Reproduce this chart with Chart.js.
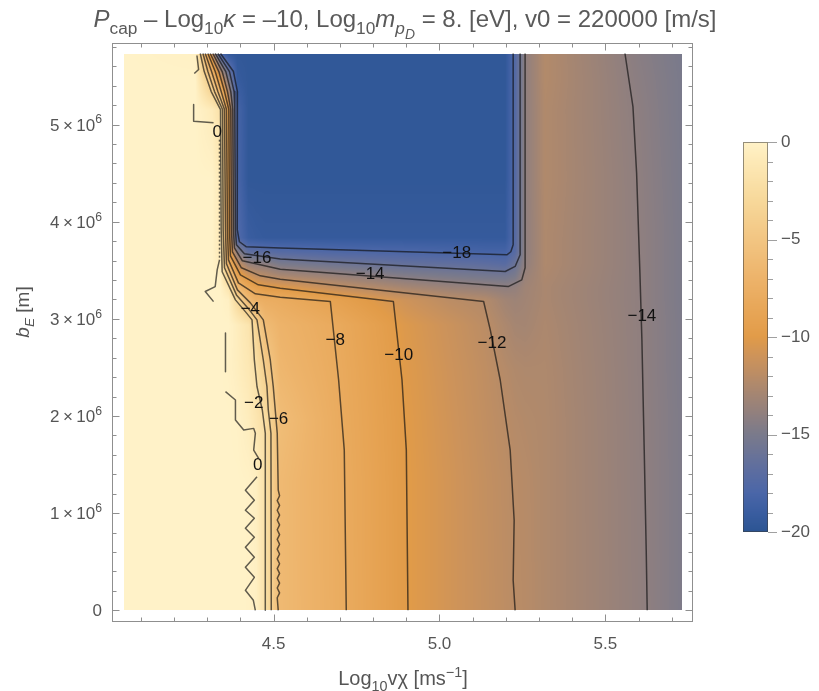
<!DOCTYPE html>
<html>
<head>
<meta charset="utf-8">
<script src="https://cdn.jsdelivr.net/npm/chart.js@4.4.1/dist/chart.umd.min.js"></script>
<style>
html,body{margin:0;padding:0;background:#fff}
canvas{display:block}
</style>
</head>
<body>
<canvas id="c" width="819" height="691"></canvas>
<script>
// ---- density grid: log10 v_chi (columns) x b_E in 10^6 m (rows), values are log10 P_cap ----
const logV = [4.050,4.264,4.315,4.340,4.364,4.391,4.424,4.448,4.475,4.520,4.701,4.897,5.032,5.138,5.198,5.228,5.258,5.318,5.605,5.730];
const bE   = [0,1.340,1.959,2.474,2.938,3.196,3.320,3.443,3.567,3.691,3.835,4.433,5.155,5.464,5.730];
const pcapRows = [
  [0,0,0,0,0,0,-0.1,-0.3,-2.0,-6.3,-7.85,-9.95,-10.8,-11.45,-11.8,-12.0,-12.1,-12.45,-13.9,-14.8],
  [0,0,0,0,0,0,-0.1,-0.4,-2.0,-6.3,-7.9,-9.95,-10.8,-11.5,-11.85,-12.05,-12.15,-12.45,-13.93,-14.8],
  [0,0,0,0,0,-0.1,-0.6,-1.4,-2.4,-5.9,-8.0,-10.0,-10.9,-11.6,-12.0,-12.2,-12.3,-12.45,-13.95,-14.8],
  [0,0,0,0,-0.1,-0.5,-1.1,-2.1,-4.1,-6.6,-8.1,-10.1,-11.0,-11.7,-12.2,-12.4,-12.5,-12.5,-13.97,-14.85],
  [0,0,0,0,0,-0.6,-1.5,-3.6,-6.1,-7.0,-8.25,-10.25,-11.15,-11.9,-12.6,-12.9,-12.95,-12.6,-13.98,-14.85],
  [0,0,0,0,-0.3,-3.1,-6.2,-7.4,-7.7,-7.9,-9.3,-11.0,-11.9,-12.3,-13.1,-13.3,-13.1,-12.7,-14.0,-14.9],
  [0,0,0,-0.1,-1.5,-6.4,-8.3,-9.2,-9.8,-10.0,-11.6,-12.8,-13.4,-13.7,-14.0,-13.8,-13.2,-12.7,-14.0,-14.9],
  [0,0,0,-0.3,-4.3,-8.8,-10.8,-11.7,-12.1,-12.7,-13.6,-14.6,-15.0,-15.3,-15.4,-15.0,-13.5,-12.6,-14.0,-14.9],
  [0,0,0,-0.8,-7.0,-11.3,-13.6,-14.0,-14.1,-15.0,-15.7,-16.4,-16.6,-16.8,-17.1,-16.0,-13.9,-12.5,-14.0,-14.9],
  [0,0,0,-1.0,-8.2,-14.3,-16.7,-16.8,-17.0,-17.3,-17.7,-17.9,-18.1,-18.3,-18.3,-17.2,-14.0,-12.5,-14.0,-14.9],
  [0,0,0,-1.0,-9.0,-17.5,-19.0,-19.2,-19.3,-19.3,-19.3,-19.3,-19.3,-19.3,-19.3,-17.3,-14.0,-12.5,-14.0,-14.9],
  [0,0,0,-1.0,-9.0,-18.0,-19.6,-19.6,-19.6,-19.6,-19.6,-19.6,-19.6,-19.6,-19.6,-17.4,-14.0,-12.4,-14.05,-14.95],
  [0,0,-0.8,-2.0,-9.6,-18.2,-19.6,-19.6,-19.6,-19.6,-19.6,-19.6,-19.6,-19.6,-19.6,-17.4,-14.0,-12.4,-14.15,-15.0],
  [0,0,-5.4,-10.0,-14.6,-19.2,-19.6,-19.6,-19.6,-19.6,-19.6,-19.6,-19.6,-19.6,-19.6,-17.4,-14.0,-12.3,-14.25,-15.0],
  [0,-0.2,-11.6,-18.0,-19.4,-19.6,-19.6,-19.6,-19.6,-19.6,-19.6,-19.6,-19.6,-19.6,-19.6,-17.4,-14.0,-12.3,-14.35,-15.05]
];

// ---- colour scale ----
const cbarValues = [0,-1,-3,-5,-7,-9,-10,-11,-12,-13,-14,-15,-16,-17,-18,-19,-20];
const cbarColors = ['#FFF2C8','#FDE9B6','#F7D89A','#F2C582','#EDB36A','#E6A353','#E19B48','#CD935A','#B98C66',
                    '#A38573','#8F7F7F','#7A7A8B','#6A7397','#5A6CA1','#4A66A8','#3A5DA0','#2B5492'];
const cbarTicks = [0,-5,-10,-15,-20];

// ---- contour lines (log10 v, b_E / 10^6 m) ----
const contourM18 = [[4.340,5.732],[4.379,5.546],[4.391,5.340],[4.390,5.155],[4.391,3.918],[4.397,3.794],[4.418,3.742],[4.520,3.729],[5.203,3.660],[5.215,3.691],[5.222,3.763],[5.222,5.732]];
const contourM16 = [[4.332,5.732],[4.367,5.546],[4.381,5.340],[4.383,5.155],[4.385,3.918],[4.388,3.763],[4.412,3.670],[4.520,3.616],[5.198,3.488],[5.228,3.540],[5.243,3.660],[5.243,5.732]];
const contourM14 = [[4.324,5.732],[4.356,5.546],[4.371,5.340],[4.377,5.155],[4.379,3.918],[4.382,3.732],[4.406,3.598],[4.520,3.512],[5.207,3.333],[5.248,3.402],[5.258,3.526],[5.258,5.732]];
const contourM14b = [[5.559,5.732],[5.583,5.186],[5.594,4.505],[5.604,3.474],[5.610,2.784],[5.617,1.649],[5.623,0.619],[5.626,0]];
const contourM12 = [[4.317,5.732],[4.345,5.546],[4.361,5.340],[4.371,5.155],[4.373,3.918],[4.376,3.691],[4.403,3.526],[4.460,3.443],[4.520,3.409],[5.133,3.179],[5.153,2.887],[5.183,2.371],[5.213,1.649],[5.225,0.928],[5.222,0.309],[5.228,0]];
const contourM10 = [[4.309,5.732],[4.335,5.546],[4.352,5.340],[4.365,5.155],[4.367,3.918],[4.370,3.649],[4.400,3.454],[4.454,3.351],[4.520,3.316],[4.861,3.179],[4.887,2.371],[4.900,1.649],[4.905,0]];
const contourM8 = [[4.302,5.732],[4.324,5.546],[4.342,5.340],[4.358,5.155],[4.361,3.918],[4.364,3.608],[4.394,3.371],[4.445,3.258],[4.520,3.224],[4.671,3.179],[4.696,2.371],[4.713,1.649],[4.719,0]];
const contourM6 = [[4.294,5.732],[4.313,5.546],[4.332,5.340],[4.352,5.155],[4.355,3.918],[4.358,3.567],[4.391,3.299],[4.430,3.165],[4.469,2.990],[4.490,2.577],[4.499,2.302],[4.505,2.062],[4.511,1.822],[4.514,1.237],
  [4.518,1.18],[4.511,1.13],[4.518,1.08],[4.511,1.03],[4.518,0.98],[4.511,0.93],[4.518,0.88],[4.511,0.83],[4.518,0.78],[4.511,0.73],[4.518,0.68],[4.511,0.63],
  [4.518,0.58],[4.511,0.53],[4.518,0.48],[4.511,0.43],[4.518,0.38],[4.511,0.33],[4.518,0.28],[4.511,0.23],[4.518,0.18],[4.511,0.13],[4.514,0]];
const contourM4 = [[4.287,5.732],[4.302,5.546],[4.322,5.340],[4.346,5.155],[4.348,3.918],[4.352,3.526],[4.388,3.247],[4.427,3.093],[4.450,2.990],[4.469,2.577],[4.480,2.302],[4.484,2.062],[4.492,1.822],[4.493,0]];
const contourM2 = [[4.279,5.732],[4.291,5.546],[4.312,5.340],[4.340,5.155],[4.342,3.918],[4.345,3.485],[4.385,3.196],[4.418,3.062],[4.435,2.990],[4.442,2.577],[4.450,2.302],[4.466,2.062],[4.475,1.822],[4.475,0]];
const contour0a = [[4.269,5.711],[4.274,5.567],[4.261,5.526]];
const contour0b = [[4.259,5.206],[4.259,5.034],[4.319,5.018]];
const contour0c = [[4.337,4.845],[4.337,3.608]];
const contour0d = [[4.337,3.608],[4.330,3.505],[4.324,3.333],[4.294,3.282],[4.319,3.178]];
const contour0e = [[4.355,2.856],[4.355,2.457]];
const contour0f = [[4.355,2.251],[4.385,2.165],[4.385,1.959],[4.410,1.856],[4.440,1.873],[4.445,1.822],[4.440,1.649],[4.455,1.564]];
const contour0g = [[4.450,1.374],[4.415,1.237],[4.442,1.134],[4.415,1.031],[4.442,0.948],[4.415,0.845],[4.442,0.753],[4.415,0.649],[4.442,0.546],[4.415,0.443],[4.442,0.340],[4.415,0.206],[4.439,0.103],[4.445,0]];

// ---- contour labels ----
const labelLevels = [0,-16,-14,-18,-4,-8,-10,-12,-14,-2,-6,0];
const labelLogV   = [4.330,4.450,4.791,5.052,4.430,4.686,4.877,5.158,5.610,4.440,4.515,4.452];
const labelBE     = [4.918,3.626,3.464,3.677,3.103,2.784,2.629,2.749,3.024,2.131,1.969,1.495];

// ---- axis ticks ----
const xMajorTicks = [4.5,5.0,5.5];
const yMajorTicks = [0,1,2,3,4,5];

const FONT = "'Liberation Sans', Arial, Helvetica, sans-serif";
Chart.defaults.font.family = FONT;

function hexRgb(h){return [parseInt(h.slice(1,3),16),parseInt(h.slice(3,5),16),parseInt(h.slice(5,7),16)];}
const stopRgb = cbarColors.map(hexRgb);
const LUT = [];
for (let i = 0; i <= 400; i++) {
  const v = -i * 0.05;
  let k = 0;
  while (k < cbarValues.length - 2 && v < cbarValues[k + 1]) k++;
  const t = (cbarValues[k] - v) / (cbarValues[k] - cbarValues[k + 1]);
  const a = stopRgb[k], b = stopRgb[k + 1];
  LUT.push([0,1,2].map(c => Math.round(a[c] + (b[c] - a[c]) * t)));
}
function colourOf(v){ v = Math.max(-20, Math.min(0, v)); return LUT[Math.round(-v * 20)]; }

function locate(nodes, v){
  let i = 0;
  while (i < nodes.length - 2 && v > nodes[i + 1]) i++;
  const t = Math.max(0, Math.min(1, (v - nodes[i]) / (nodes[i + 1] - nodes[i])));
  return [i, t];
}

// density image drawn through the chart scales
const densityPlugin = {
  id: 'density',
  beforeDatasetsDraw(chart){
    const {ctx, scales:{x, y}} = chart;
    const px0 = Math.round(x.getPixelForValue(logV[0]));
    const px1 = Math.round(x.getPixelForValue(logV[logV.length - 1]));
    const py0 = Math.round(y.getPixelForValue(bE[bE.length - 1]));
    const py1 = Math.round(y.getPixelForValue(bE[0]));
    const w = px1 - px0, h = py1 - py0;
    const off = document.createElement('canvas');
    off.width = w; off.height = h;
    const octx = off.getContext('2d');
    const img = octx.createImageData(w, h);
    const cols = [];
    for (let i = 0; i < w; i++) cols.push(locate(logV, x.getValueForPixel(px0 + i + 0.5)));
    for (let j = 0; j < h; j++) {
      const [r, ty] = locate(bE, y.getValueForPixel(py0 + j + 0.5));
      const lo = pcapRows[r], hi = pcapRows[r + 1];
      for (let i = 0; i < w; i++) {
        const [c, tx] = cols[i];
        const a = lo[c] + (lo[c + 1] - lo[c]) * tx;
        const b = hi[c] + (hi[c + 1] - hi[c]) * tx;
        const col = colourOf(a + (b - a) * ty);
        const p = (j * w + i) * 4;
        img.data[p] = col[0]; img.data[p + 1] = col[1]; img.data[p + 2] = col[2]; img.data[p + 3] = 255;
      }
    }
    octx.putImageData(img, 0, 0);
    ctx.drawImage(off, px0, py0);
  }
};

// rich text: segments {t, i (italic), s (0 normal, 1 sub, 2 subsub, -1 sup)}
function segFont(seg, base){
  const scale = seg.s === 1 ? 0.72 : seg.s === 2 ? 0.58 : seg.s === -1 ? 0.72 : 1;
  return (seg.i ? 'italic ' : '') + (base * scale).toFixed(1) + 'px ' + FONT;
}
function segShift(seg, base){
  return seg.s === 1 ? base * 0.28 : seg.s === 2 ? base * 0.48 : seg.s === -1 ? -base * 0.42 : 0;
}
function richWidth(ctx, segs, base){
  let w = 0;
  for (const s of segs) { ctx.font = segFont(s, base); w += ctx.measureText(s.t).width; }
  return w;
}
function drawRich(ctx, segs, x, y, base, align){
  const w = richWidth(ctx, segs, base);
  let cx = align === 'center' ? x - w / 2 : align === 'right' ? x - w : x;
  ctx.textAlign = 'left';
  ctx.textBaseline = 'alphabetic';
  for (const s of segs) {
    ctx.font = segFont(s, base);
    ctx.fillText(s.t, cx, y + segShift(s, base));
    cx += ctx.measureText(s.t).width;
  }
}

const titleSegs = [
  {t:'P', i:1}, {t:'cap', s:1}, {t:' \u2013 Log'}, {t:'10', s:1}, {t:'\u03BA', i:1},
  {t:' = \u201310, Log'}, {t:'10', s:1}, {t:'m', i:1}, {t:'p', i:1, s:1}, {t:'D', i:1, s:2},
  {t:' = 8. [eV], v0 = 220000 [m/s]'}
];
const xTitleSegs = [{t:'Log'}, {t:'10', s:1}, {t:'v\u03C7 [ms'}, {t:'\u22121', s:-1}, {t:']'}];
const yTitleSegs = [{t:'b', i:1}, {t:'E', i:1, s:1}, {t:' [m]'}];

const decorPlugin = {
  id: 'decor',
  afterDatasetsDraw(chart){
    const {ctx, scales:{x, y}} = chart;
    ctx.save();
    ctx.fillStyle = '#111';
    ctx.font = '17px ' + FONT;
    ctx.textAlign = 'center';
    ctx.textBaseline = 'middle';
    labelLevels.forEach((lv, k) => {
      const txt = lv === 0 ? '0' : '\u2212' + Math.abs(lv);
      ctx.fillText(txt, x.getPixelForValue(labelLogV[k]), y.getPixelForValue(labelBE[k]));
    });
    ctx.restore();
  },
  afterDraw(chart){
    const {ctx, chartArea:a, scales:{x, y}} = chart;
    ctx.save();
    // frame
    const L = Math.round(a.left) - 0.5, R = Math.round(a.right) - 0.5;
    const T = Math.round(a.top) + 0.5, B = Math.round(a.bottom) - 0.5;
    ctx.strokeStyle = '#8f8f8f';
    ctx.lineWidth = 1;
    ctx.strokeRect(L, T, R - L, B - T);
    ctx.beginPath();
    for (let k = 41; k <= 57; k++) {
      const v = k / 10;
      const len = xMajorTicks.some(m => Math.abs(m - v) < 1e-6) ? 7 : 4;
      const px = Math.round(x.getPixelForValue(v)) + 0.5;
      ctx.moveTo(px, B); ctx.lineTo(px, B - len);
      ctx.moveTo(px, T); ctx.lineTo(px, T + len);
    }
    for (let k = 0; k <= 29; k++) {
      const v = k / 5;
      const len = k % 5 === 0 ? 7 : 4;
      const py = Math.round(y.getPixelForValue(v)) + 0.5;
      ctx.moveTo(L, py); ctx.lineTo(L + len, py);
      ctx.moveTo(R, py); ctx.lineTo(R - len, py);
    }
    ctx.stroke();

    // y tick labels
    ctx.fillStyle = '#555';
    yMajorTicks.forEach(v => {
      const py = y.getPixelForValue(v) + 6;
      if (v === 0) drawRich(ctx, [{t:'0'}], 102, py, 17, 'right');
      else drawRich(ctx, [{t: v + '\u2009\u00D7\u200910'}, {t:'6', s:-1}], 102, py, 17, 'right');
    });

    // title and axis titles
    ctx.fillStyle = '#5a5a5a';
    drawRich(ctx, titleSegs, 405, 27, 24, 'center');
    ctx.fillStyle = '#555';
    drawRich(ctx, xTitleSegs, 403, 685, 20, 'center');
    ctx.save();
    ctx.translate(29, 312);
    ctx.rotate(-Math.PI / 2);
    drawRich(ctx, yTitleSegs, 0, 0, 19, 'center');
    ctx.restore();

    // colour bar
    const bx = 743, bw = 25, btop = 142, bh = 390;
    for (let j = 0; j < bh; j++) {
      const c = colourOf(-(j + 0.5) / bh * 20);
      ctx.fillStyle = 'rgb(' + c[0] + ',' + c[1] + ',' + c[2] + ')';
      ctx.fillRect(bx, btop + j, bw, 1);
    }
    ctx.strokeStyle = 'rgba(60,60,60,0.55)';
    ctx.strokeRect(bx + 0.5, btop + 0.5, bw - 1, bh - 1);
    ctx.strokeStyle = '#a0a0a0';
    ctx.beginPath();
    for (let k = 0; k <= 20; k++) {
      const py = Math.round(btop + k / 20 * bh) + 0.5;
      const len = k % 5 === 0 ? 9 : 5;
      ctx.moveTo(bx + bw, py); ctx.lineTo(bx + bw + len, py);
    }
    ctx.stroke();
    ctx.fillStyle = '#555';
    ctx.font = '17px ' + FONT;
    ctx.textAlign = 'left';
    ctx.textBaseline = 'middle';
    cbarTicks.forEach(v => {
      const py = btop + (-v / 20) * bh;
      ctx.fillText(v === 0 ? '0' : '\u2212' + Math.abs(v), 781, py);
    });
    ctx.restore();
  }
};

const contourSets = [
  {lv:-18, pts:contourM18}, {lv:-16, pts:contourM16}, {lv:-14, pts:contourM14}, {lv:-14, pts:contourM14b},
  {lv:-12, pts:contourM12}, {lv:-10, pts:contourM10}, {lv:-8, pts:contourM8}, {lv:-6, pts:contourM6},
  {lv:-4, pts:contourM4}, {lv:-2, pts:contourM2},
  {lv:0, pts:contour0a}, {lv:0, pts:contour0b}, {lv:0, pts:contour0c, dash:[2,2]}, {lv:0, pts:contour0d},
  {lv:0, pts:contour0e}, {lv:0, pts:contour0f}, {lv:0, pts:contour0g}
];

new Chart(document.getElementById('c'), {
  type: 'scatter',
  data: {
    datasets: contourSets.map(c => ({
      label: String(c.lv),
      data: c.pts,
      showLine: true,
      borderColor: 'rgba(15,15,15,0.66)',
      borderWidth: 1.5,
      borderDash: c.dash || [],
      borderJoinStyle: 'round',
      pointRadius: 0,
      tension: 0,
      fill: false
    }))
  },
  options: {
    responsive: false,
    animation: false,
    devicePixelRatio: 1,
    layout: { padding: { top: 43, right: 126, bottom: 0, left: 0 } },
    plugins: { legend: { display: false }, tooltip: { enabled: false }, title: { display: false } },
    scales: {
      x: {
        type: 'linear', min: 4.016, max: 5.764,
        grid: { display: false }, border: { display: false },
        afterBuildTicks: s => { s.ticks = xMajorTicks.map(v => ({ value: v })); },
        afterFit: s => { s.height = 69; },
        ticks: { autoSkip: false, maxRotation: 0, padding: 4, color: '#555', font: { size: 17, family: FONT },
                 callback: v => Number(v).toFixed(1) }
      },
      y: {
        type: 'linear', min: -0.12, max: 5.84,
        grid: { display: false }, border: { display: false },
        afterFit: s => { s.width = 113; },
        ticks: { display: false }
      }
    }
  },
  plugins: [densityPlugin, decorPlugin]
});
</script>
</body>
</html>
